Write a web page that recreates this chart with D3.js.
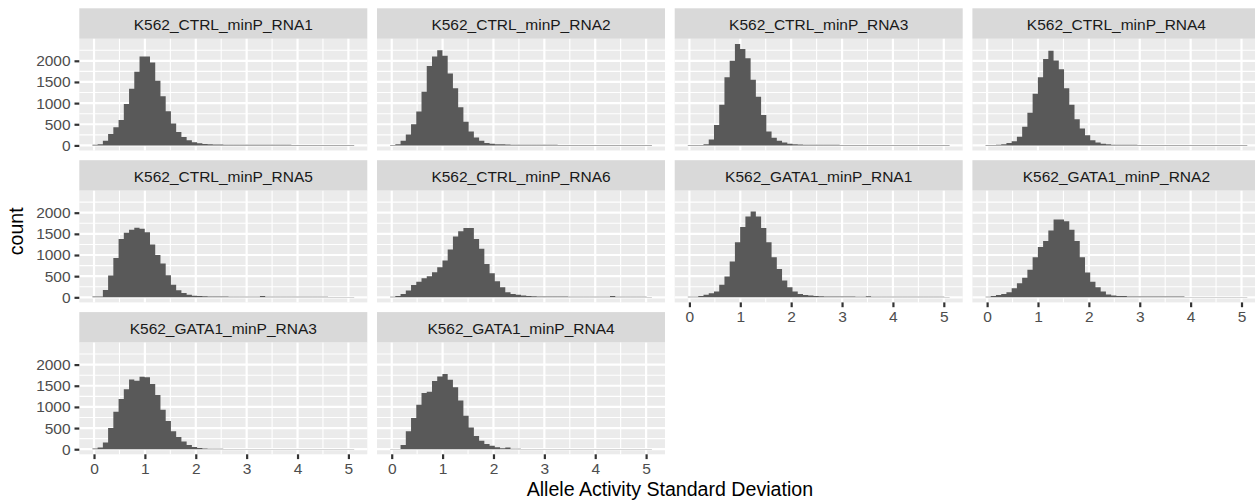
<!DOCTYPE html>
<html><head><meta charset="utf-8">
<script src="https://cdn.jsdelivr.net/npm/d3@7/dist/d3.min.js"></script>
<style>body{margin:0;background:#fff}svg{display:block}</style>
</head><body>
<svg id="chart" width="1255" height="502"></svg>
<script>
// ---------------- data ----------------
const panelNames = [
  "K562_CTRL_minP_RNA1","K562_CTRL_minP_RNA2","K562_CTRL_minP_RNA3","K562_CTRL_minP_RNA4",
  "K562_CTRL_minP_RNA5","K562_CTRL_minP_RNA6","K562_GATA1_minP_RNA1","K562_GATA1_minP_RNA2",
  "K562_GATA1_minP_RNA3","K562_GATA1_minP_RNA4"
];
// histogram counts, 50 bins each
const ctrlRNA1 = [15,30,110,270,430,600,980,1340,1740,2100,2100,1960,1530,1160,810,520,320,200,120,75,50,35,25,20,20,18,18,16,16,15,15,15,14,14,14,13,13,13,12,12,12,12,11,11,11,11,10,10,10,10];
const ctrlRNA2 = [12,30,110,260,500,800,1270,1880,2100,2250,2120,1700,1350,900,560,330,190,110,60,40,30,25,20,18,16,15,15,14,14,13,13,13,12,12,12,12,11,11,11,11,10,10,10,10,10,10,10,10,10,10];
const ctrlRNA3 = [8,8,12,30,140,480,960,1610,2000,2400,2280,2060,1550,1150,720,330,180,110,70,40,28,22,18,16,15,14,14,13,13,12,12,12,11,11,11,10,10,10,10,10,10,10,10,10,10,10,10,10,10,10];
const ctrlRNA4 = [10,12,15,30,60,100,205,440,775,1220,1610,2040,2240,2010,1800,1350,960,620,400,240,125,70,40,25,18,15,14,13,13,12,12,12,11,11,11,11,10,10,10,10,10,10,10,10,10,10,10,10,10,10];
const ctrlRNA5 = [20,20,175,515,930,1380,1525,1600,1645,1620,1540,1250,1000,800,520,300,165,100,60,40,30,25,22,20,18,18,16,15,15,14,14,14,30,14,13,13,12,12,12,12,12,11,11,11,11,10,10,10,10,10];
const ctrlRNA6 = [15,30,80,160,290,370,450,500,590,710,870,1130,1440,1560,1640,1640,1380,1150,790,570,380,240,120,80,60,45,30,25,22,20,20,18,18,17,16,16,15,15,14,14,13,13,30,13,12,12,12,11,11,10];
const gataRNA1 = [15,15,30,60,95,140,300,490,845,1300,1660,1910,2030,1910,1640,1300,950,670,395,240,135,80,55,45,30,25,22,20,20,18,18,17,16,16,28,15,15,14,14,14,13,13,13,12,12,12,11,11,11,10];
const gataRNA2 = [15,30,55,80,120,215,330,460,650,950,1190,1330,1580,1840,1840,1800,1600,1330,950,585,370,240,135,65,45,30,30,22,22,22,20,20,20,20,20,20,20,20,10,10,10,10,10,10,10,10,10,10,10,10];
const gataRNA3 = [15,40,160,500,885,1185,1420,1645,1620,1715,1700,1540,1280,930,665,425,290,180,100,55,30,20,12,10,10,8,8,8,8,8,8,8,8,8,8,8,8,8,8,8,8,8,8,8,8,8,8,8,8,8];
const gataRNA4 = [8,8,100,425,735,1050,1330,1360,1610,1720,1780,1640,1465,1150,790,515,315,200,125,80,45,25,40,10,10,8,8,8,8,8,8,8,8,8,8,8,8,8,8,8,8,8,8,8,8,8,8,8,8,8];
const seriesValues = [ctrlRNA1,ctrlRNA2,ctrlRNA3,ctrlRNA4,ctrlRNA5,ctrlRNA6,gataRNA1,gataRNA2,gataRNA3,gataRNA4];
const binLow = -0.032, binHigh = 5.114;   // outer edges of the histogram bins
const xTicks = [0,1,2,3,4,5];
const xMinor = [0.5,1.5,2.5,3.5,4.5];
const yTicks = [0,500,1000,1500,2000];
const yMinor = [250,750,1250,1750,2250];
const xTitle = "Allele Activity Standard Deviation";
const yTitle = "count";

// ---------------- layout ----------------
const ncol = 4;
const left0 = 79.3, panelW = 288, gapX = 9.7;
const top0 = 8.3, stripH = 30.5, panelH = 111.7, gapY = 9.7;
const fs = 15.5, tickLen = 4.8, tickPad = 3.9;
const font = "'Liberation Sans', Arial, Helvetica, sans-serif";

const svg = d3.select("#chart");
const nBins = ctrlRNA1.length;
const bw = (binHigh - binLow) / nBins;
const xr = binHigh - binLow;
const x = d3.scaleLinear().domain([binLow - 0.05*xr, binHigh + 0.05*xr]).range([0, panelW]);
const ymax = d3.max(seriesValues, s => d3.max(s));
const y = d3.scaleLinear().domain([-0.05*ymax, 1.05*ymax]).range([panelH, 0]);

const nPanels = panelNames.length;
const nrow = Math.ceil(nPanels / ncol);

panelNames.forEach((name, p) => {
  const r = Math.floor(p / ncol), c = p % ncol;
  const px = left0 + c * (panelW + gapX);
  const sy = top0 + r * (stripH + panelH + gapY);
  const py = sy + stripH;
  // strip
  svg.append("rect").attr("x", px).attr("y", sy).attr("width", panelW).attr("height", stripH).attr("fill", "#D9D9D9");
  svg.append("text").attr("x", px + panelW/2).attr("y", sy + 22)
    .attr("text-anchor", "middle").attr("font-family", font).attr("font-size", fs)
    .attr("fill", "#1A1A1A").text(name);
  const g = svg.append("g").attr("transform", `translate(${px},${py})`);
  g.append("rect").attr("width", panelW).attr("height", panelH).attr("fill", "#EBEBEB");
  // minor grid
  g.selectAll(".xm").data(xMinor).enter().append("line")
    .attr("x1", d => x(d)).attr("x2", d => x(d)).attr("y1", 0).attr("y2", panelH)
    .attr("stroke", "#fff").attr("stroke-width", 1.1);
  g.selectAll(".ym").data(yMinor.filter(v => y(v) >= 0)).enter().append("line")
    .attr("y1", d => y(d)).attr("y2", d => y(d)).attr("x1", 0).attr("x2", panelW)
    .attr("stroke", "#fff").attr("stroke-width", 1.1);
  // major grid
  g.selectAll(".xM").data(xTicks).enter().append("line")
    .attr("x1", d => x(d)).attr("x2", d => x(d)).attr("y1", 0).attr("y2", panelH)
    .attr("stroke", "#fff").attr("stroke-width", 2.2);
  g.selectAll(".yM").data(yTicks).enter().append("line")
    .attr("y1", d => y(d)).attr("y2", d => y(d)).attr("x1", 0).attr("x2", panelW)
    .attr("stroke", "#fff").attr("stroke-width", 2.2);
  // bars: one path with a rectangle per bin (avoids seams between bars)
  const vals = seriesValues[p];
  const path = d3.path();
  vals.forEach((d, i) => {
    const x0 = x(binLow + i*bw), x1 = x(binLow + (i+1)*bw);
    path.rect(x0, y(d), x1 - x0, y(0) - y(d));
  });
  g.append("path").attr("d", path.toString()).attr("fill", "#595959");
  // y axis on first column
  if (c === 0) {
    const ax = g.append("g").call(d3.axisLeft(y).tickValues(yTicks).tickSize(tickLen).tickPadding(tickPad).tickFormat(d3.format("d")));
    ax.select(".domain").remove();
    ax.selectAll("line").attr("stroke", "#333333").attr("stroke-width", 2.2);
    ax.selectAll("text").attr("font-family", font).attr("font-size", fs).attr("fill", "#4D4D4D");
  }
  // x axis on panels with nothing below
  if (p + ncol >= nPanels) {
    const ax = g.append("g").attr("transform", `translate(0,${panelH})`)
      .call(d3.axisBottom(x).tickValues(xTicks).tickSize(tickLen).tickPadding(tickPad).tickFormat(d3.format("d")));
    ax.select(".domain").remove();
    ax.selectAll("line").attr("stroke", "#333333").attr("stroke-width", 2.2);
    ax.selectAll("text").attr("font-family", font).attr("font-size", fs).attr("fill", "#4D4D4D");
  }
});

const fullW = ncol * panelW + (ncol-1) * gapX;
const bottomAll = top0 + nrow * (stripH + panelH) + (nrow-1) * gapY;
svg.append("text").attr("x", left0 + fullW/2).attr("y", 496)
  .attr("text-anchor", "middle").attr("font-family", font).attr("font-size", 19.6)
  .attr("fill", "#000").text(xTitle);
svg.append("text").attr("transform", `translate(22.5,${(top0 + bottomAll)/2}) rotate(-90)`)
  .attr("text-anchor", "middle").attr("font-family", font).attr("font-size", 19.6)
  .attr("fill", "#000").text(yTitle);
</script>
</body></html>
